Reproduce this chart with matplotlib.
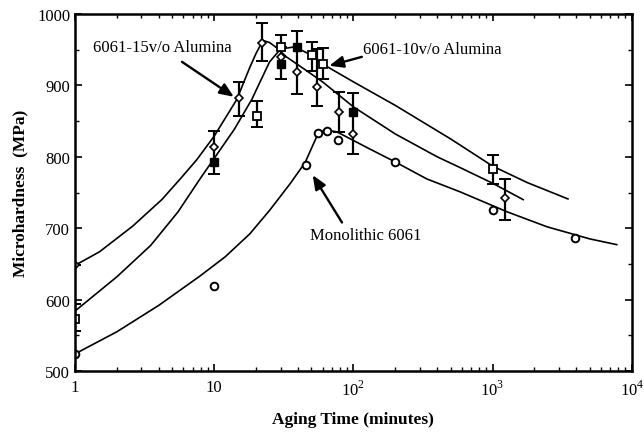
#!/usr/bin/env python3
"""
Microhardness vs aging time for 6061 and 6061/alumina composites.
Saves out.png
"""

import matplotlib
matplotlib.use("Agg")
import matplotlib.pyplot as plt
from matplotlib.ticker import LogLocator, FixedLocator, MultipleLocator, NullFormatter

plt.rcParams["font.family"] = ["Liberation Serif", "DejaVu Serif"]
plt.rcParams["mathtext.fontset"] = "custom"
plt.rcParams["mathtext.rm"] = "Liberation Serif"

# --- fitted curves ---
curve15_x = [1, 1.5, 2.6, 4.2, 5.7, 7.5, 10, 14.5, 18, 20, 22.4, 25, 28, 33, 45, 60,
             100, 200, 400, 583, 1000, 1660]
curve15_y = [648, 667, 703, 740, 769, 796, 829, 880, 925, 945, 963, 960, 953, 940, 922, 905,
             870, 832, 800, 785, 763, 740]

curve10_x = [1, 2, 3.5, 5.5, 7.9, 14, 18.7, 21, 25, 30, 38, 48, 60, 100, 200, 500, 1000, 1770, 3480]
curve10_y = [584, 632, 676, 723, 769, 839, 881, 902, 933, 951, 954, 944, 930, 905, 872, 825, 787, 764, 741]

curve0_x = [1, 2, 4, 7.9, 12, 18, 25, 35, 45, 55, 62, 76, 131, 199, 337, 583, 1270, 2460, 5000, 7800]
curve0_y = [524, 555, 592, 633, 660, 692, 725, 762, 792, 830, 838, 835, 811, 793, 769, 751, 723, 702, 685, 677]

# --- measured points ---
# 6061-15v/o Alumina (diamonds)
d15_x = [1, 10, 15.1, 22, 30.3, 39.3, 54.7, 78.6, 100, 1234]
d15_y = [648, 814, 882, 960, 940, 919, 898, 863, 832, 742]
d15_lo = [648, 776, 857, 934, 909, 888, 871, 835, 804, 712]
d15_hi = [648, 836, 905, 987, 970, 976, 951, 891, 889, 769]

# 6061-10v/o Alumina (open squares)
s10_x = [1, 20.3, 30.3, 50.5, 60.5, 1000]
s10_y = [573, 857, 954, 943, 930, 783]
s10_lo = [556, 842, 954, 920, 909, 762]
s10_hi = [594, 878, 954, 961, 952, 803]

# 6061-10v/o Alumina (filled squares)
f10_x = [10, 30.3, 39.3, 100]
f10_y = [793, 930, 954, 863]

# Monolithic 6061 (circles)
c0_x = [1, 10, 45.5, 55.6, 64.6, 78, 199, 1000, 3900]
c0_y = [524, 619, 789, 833, 836, 823, 793, 726, 686]

xticks = [1, 10, 100, 1000, 10000]
xtick_labels = ["1", "10", r"$10^{2}$", r"$10^{3}$", r"$10^{4}$"]
yticks = [500, 600, 700, 800, 900, 1000]


def main():
    fig = plt.figure(figsize=(6.44, 4.39), dpi=100)
    ax = fig.add_axes([0.1165, 0.1526, 0.8645, 0.8132])

    lw = 1.2
    ax.plot(curve15_x, curve15_y, color="black", lw=lw)
    ax.plot(curve10_x, curve10_y, color="black", lw=lw)
    ax.plot(curve0_x, curve0_y, color="black", lw=lw)

    ebkw = dict(fmt="none", ecolor="black", elinewidth=1.6, capsize=4, capthick=1.4)
    ax.errorbar(d15_x, d15_y,
                yerr=[[y - l for y, l in zip(d15_y, d15_lo)], [h - y for y, h in zip(d15_y, d15_hi)]],
                **ebkw)
    ax.errorbar(s10_x, s10_y,
                yerr=[[y - l for y, l in zip(s10_y, s10_lo)], [h - y for y, h in zip(s10_y, s10_hi)]],
                **ebkw)

    ax.plot(d15_x, d15_y, "D", ms=4.2, mfc="white", mec="black", mew=1.2, ls="none")
    ax.plot(s10_x, s10_y, "s", ms=5.5, mfc="white", mec="black", mew=1.3, ls="none")
    ax.plot(f10_x, f10_y, "s", ms=5.5, mfc="black", mec="black", ls="none")
    ax.plot(c0_x, c0_y, "o", ms=5.5, mfc="white", mec="black", mew=1.4, ls="none")

    ax.set_xscale("log")
    ax.set_xlim(1, 10000)
    ax.set_ylim(500, 1000)

    ax.xaxis.set_major_locator(FixedLocator(xticks))
    ax.set_xticklabels(xtick_labels)
    ax.xaxis.set_minor_locator(LogLocator(base=10, subs=range(2, 10)))
    ax.xaxis.set_minor_formatter(NullFormatter())
    ax.set_yticks(yticks)
    ax.yaxis.set_minor_locator(MultipleLocator(50))

    ax.tick_params(which="both", direction="in", top=True, right=True, labelsize=12)
    ax.tick_params(which="major", length=5, width=1.2)
    ax.tick_params(which="minor", length=3, width=1.0)
    ax.tick_params(axis="x", pad=6)
    for sp in ax.spines.values():
        sp.set_linewidth(1.8)

    ax.set_xlabel("Aging Time (minutes)", fontsize=12.5, fontweight="bold", labelpad=9)
    ax.set_ylabel("Microhardness  (MPa)", fontsize=12.5, fontweight="bold", labelpad=6)

    # annotations: labels and arrows
    akw = dict(arrowstyle="-|>,head_length=0.6,head_width=0.25", color="black", lw=1.7,
               mutation_scale=14, shrinkA=0, shrinkB=1)
    ax.text(1.35, 954, "6061-15v/o Alumina", fontsize=12, ha="left", va="center")
    ax.annotate("", xy=(14.1, 883), xytext=(5.87, 933), arrowprops=akw)

    ax.text(117, 951, "6061-10v/o Alumina", fontsize=12, ha="left", va="center")
    ax.annotate("", xy=(65.6, 927), xytext=(115, 940), arrowprops=akw)

    ax.text(48.8, 690, "Monolithic 6061", fontsize=12, ha="left", va="center")
    ax.annotate("", xy=(50.4, 776), xytext=(82.8, 708), arrowprops=akw)

    fig.savefig("out.png", dpi=100)
    plt.close(fig)


if __name__ == "__main__":
    main()
